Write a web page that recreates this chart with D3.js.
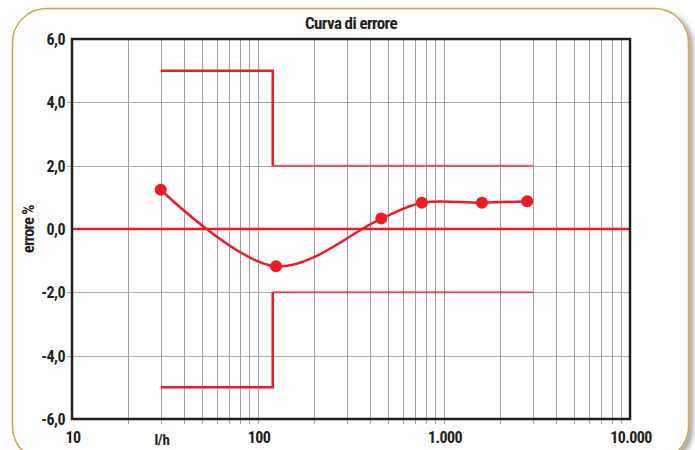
<!DOCTYPE html>
<html>
<head>
<meta charset="utf-8">
<script src="https://cdn.jsdelivr.net/npm/d3@7/dist/d3.min.js"></script>
<style>
  html, body { margin: 0; padding: 0; background: #ffffff; }
  svg { display: block; }
  text { font-family: "Liberation Sans Narrow", "Roboto Condensed", "Arial Narrow", "Liberation Sans", sans-serif; font-weight: bold; fill: #231f20; }
</style>
</head>
<body>
<svg id="chart" width="695" height="450"></svg>
<script>
// ---- data ----
const chartTitle = "Curva di errore";
const yAxisLabel = "errore %";
const xAxisLabel = "l/h";
const flowValues = [30, 125, 460, 760, 1600, 2800];          // l/h
const errorValues = [1.24, -1.18, 0.33, 0.83, 0.83, 0.88];   // %
const limitFlow = [30, 120, 3000];                            // l/h breakpoints of tolerance band
const upperLimit = [5, 2];                                    // % (low range, high range)
const lowerLimit = [-5, -2];
const xTickValues = [10, 100, 1000, 10000];
const yTickValues = [-6, -4, -2, 0, 2, 4, 6];

// ---- layout ----
const W = 695, H = 450;
const plot = { left: 72, right: 630, top: 39, bottom: 419 };
const RED = "#ed1c24";

const locale = d3.formatLocale({ decimal: ",", thousands: ".", grouping: [3], currency: ["", ""], minus: "-" });
const fmtY = locale.format(".1f");
const fmtX = locale.format(",");

const x = d3.scaleLog().domain([10, 10000]).range([plot.left, plot.right]);
const y = d3.scaleLinear().domain([-6, 6]).range([plot.bottom, plot.top]);

const svg = d3.select("#chart");
const defs = svg.append("defs");
const f = defs.append("filter").attr("id", "shadow").attr("x", "-5%").attr("y", "-5%").attr("width", "115%").attr("height", "115%");
f.append("feGaussianBlur").attr("in", "SourceAlpha").attr("stdDeviation", 2.5);
f.append("feOffset").attr("dx", 4).attr("dy", 3).attr("result", "b");
f.append("feFlood").attr("flood-color", "#000").attr("flood-opacity", 0.35);
f.append("feComposite").attr("in2", "b").attr("operator", "in");
const m = f.append("feMerge");
m.append("feMergeNode");
m.append("feMergeNode").attr("in", "SourceGraphic");

// frame
svg.append("rect")
  .attr("x", 12.5).attr("y", 8.5).attr("width", 676).attr("height", 452)
  .attr("rx", 34).attr("ry", 34)
  .attr("fill", "#ffffff").attr("stroke", "#c9a84a").attr("stroke-width", 1.5)
  .attr("filter", "url(#shadow)");

// title
svg.append("text").attr("x", (plot.left + plot.right) / 2).attr("y", 29)
  .attr("text-anchor", "middle").attr("font-size", 17).attr("letter-spacing", -0.6).text(chartTitle);

// vertical grid (log minor)
const gridX = [];
for (let d = 10; d < 10000; d *= 10) for (let k = 2; k <= 9; k++) gridX.push(d * k);
gridX.push(1000);
gridX.push(100);
svg.append("g").selectAll("line").data(gridX).join("line")
  .attr("x1", d => Math.round(x(d)) + 0.5).attr("x2", d => Math.round(x(d)) + 0.5)
  .attr("y1", plot.top).attr("y2", plot.bottom + 5)
  .attr("stroke", "#9e9e9e").attr("stroke-width", 1);

// horizontal grid
svg.append("g").selectAll("line").data(yTickValues.filter(v => v !== 0 && Math.abs(v) !== 6)).join("line")
  .attr("x1", plot.left - 5).attr("x2", plot.right)
  .attr("y1", d => Math.round(y(d)) + 0.5).attr("y2", d => Math.round(y(d)) + 0.5)
  .attr("stroke", "#a8a8a8").attr("stroke-width", 1);

// y tick labels
svg.append("g").selectAll("text").data(yTickValues).join("text")
  .attr("x", 65).attr("y", d => y(d) + 6)
  .attr("text-anchor", "end").attr("font-size", 16).attr("letter-spacing", -0.5)
  .text(d => fmtY(d));

// x tick labels
svg.append("g").selectAll("text").data(xTickValues).join("text")
  .attr("x", d => x(d) + 1).attr("y", 443)
  .attr("text-anchor", "middle").attr("font-size", 16).attr("letter-spacing", -0.6)
  .text(d => fmtX(d));

// axis titles
svg.append("text").attr("x", 162).attr("y", 445).attr("text-anchor", "middle")
  .attr("font-size", 15).attr("letter-spacing", -0.3).text(xAxisLabel);
svg.append("text").attr("transform", `translate(34,${y(0)}) rotate(-90)`).attr("text-anchor", "middle")
  .attr("font-size", 16).attr("letter-spacing", -0.6).text(yAxisLabel);

// zero line
svg.append("line").attr("x1", plot.left).attr("x2", plot.right)
  .attr("y1", y(0)).attr("y2", y(0)).attr("stroke", RED).attr("stroke-width", 2.5);

// tolerance band
const stepLine = d3.line().x(d => x(d[0])).y(d => y(d[1]));
[upperLimit, lowerLimit].forEach(lim => {
  const pts = [[limitFlow[0], lim[0]], [limitFlow[1], lim[0]], [limitFlow[1], lim[1]]];
  svg.append("path").attr("d", stepLine(pts)).attr("fill", "none")
    .attr("stroke", RED).attr("stroke-width", 2.5);
  svg.append("path").attr("d", stepLine([[limitFlow[1], lim[1]], [limitFlow[2], lim[1]]])).attr("fill", "none")
    .attr("stroke", RED).attr("stroke-width", 2).attr("stroke-opacity", 0.7);
});

// plot border
svg.append("rect").attr("x", plot.left).attr("y", plot.top)
  .attr("width", plot.right - plot.left).attr("height", plot.bottom - plot.top)
  .attr("fill", "none").attr("stroke", "#231f20").attr("stroke-width", 2.5);

// error curve
const data = flowValues.map((v, i) => [v, errorValues[i]]);
const curve = d3.line().x(d => x(d[0])).y(d => y(d[1])).curve(d3.curveCatmullRom.alpha(0.5));
svg.append("path").attr("d", curve(data)).attr("fill", "none")
  .attr("stroke", RED).attr("stroke-width", 2.5);
svg.append("g").selectAll("circle").data(data).join("circle")
  .attr("cx", d => x(d[0])).attr("cy", d => y(d[1])).attr("r", 6).attr("fill", RED);
</script>
</body>
</html>
